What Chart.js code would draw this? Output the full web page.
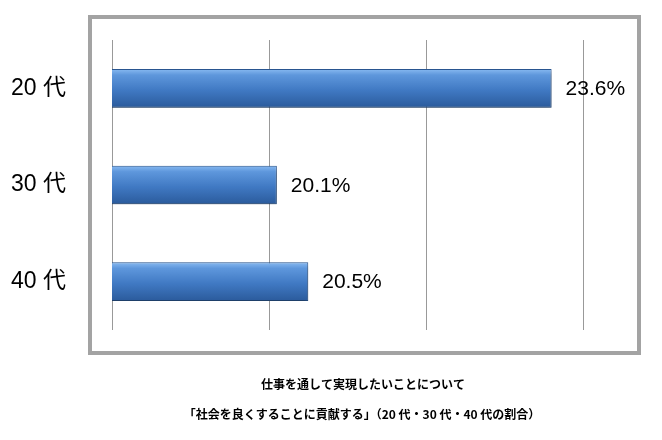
<!DOCTYPE html>
<html>
<head>
<meta charset="utf-8">
<script src="https://cdn.jsdelivr.net/npm/chart.js@4.4.0/dist/chart.umd.min.js"></script>
<style>
  html, body { margin: 0; padding: 0; background: #fff; }
  #wrap { width: 662px; height: 440px; }
</style>
</head>
<body>
<div id="wrap"><canvas id="barChart" width="662" height="440"></canvas></div>
<script>
(function () {
    "use strict";

    var categories = ["20 代", "30 代", "40 代"];
    var shares = [23.6, 20.1, 20.5];
    var axisTicks = [18, 20, 22, 24];
    var captionLines = [
        "仕事を通して実現したいことについて",
        "「社会を良くすることに貢献する」（20 代・30 代・40 代の割合）"
    ];

    var latinCjk = "'Liberation Sans', Arial, 'Noto Sans CJK JP', sans-serif";

    // vertical gradient for each bar, based on where the bar sits
    function barFill(ctx) {
        var chart = ctx.chart;
        if (!chart.chartArea || !chart.scales.y) return "#3f7ac3";
        var y = chart.scales.y.getPixelForValue(ctx.dataIndex);
        var g = chart.ctx.createLinearGradient(0, y - 19, 0, y + 19);
        g.addColorStop(0, "#86b8f0");
        g.addColorStop(0.15, "#5e97dc");
        g.addColorStop(0.55, "#4079c3");
        g.addColorStop(1, "#2b5b9c");
        return g;
    }

    // outer grey frame + caption under the chart
    var framePlugin = {
        id: "frame",
        beforeDraw: function (chart) {
            var c = chart.ctx;
            c.save();
            c.fillStyle = "#fff";
            c.fillRect(0, 0, chart.width, chart.height);
            c.strokeStyle = "#a3a3a3";
            c.lineWidth = 4;
            c.strokeRect(90, 17, 549, 336);
            c.restore();
        },
        afterDraw: function (chart) {
            var c = chart.ctx;
            c.save();
            c.fillStyle = "#000";
            c.textAlign = "center";
            c.textBaseline = "middle";
            c.font = "bold 12px 'Noto Sans CJK JP', sans-serif";
            c.fillText(captionLines[0], 363, 384);
            c.fillText(captionLines[1], 362, 414);
            c.restore();
        }
    };

    // soft shadow under the bars
    var shadowPlugin = {
        id: "barShadow",
        beforeDatasetDraw: function (chart) {
            var c = chart.ctx;
            c.save();
            c.shadowColor = "rgba(0,0,0,0.35)";
            c.shadowBlur = 5;
            c.shadowOffsetX = 1;
            c.shadowOffsetY = 3;
        },
        afterDatasetDraw: function (chart) {
            chart.ctx.restore();
        }
    };

    // value labels at the end of each bar
    var valueLabels = {
        id: "valueLabels",
        afterDatasetsDraw: function (chart) {
            var c = chart.ctx;
            var meta = chart.getDatasetMeta(0);
            c.save();
            c.fillStyle = "#000";
            c.font = "21px " + latinCjk;
            c.textAlign = "left";
            c.textBaseline = "middle";
            meta.data.forEach(function (bar, i) {
                c.fillText(shares[i].toFixed(1) + "%", bar.x + 14, bar.y + 1);
            });
            c.restore();
        }
    };

    var chartCanvas = document.getElementById("barChart").getContext("2d");

    new Chart(chartCanvas, {
        type: "bar",
        data: {
            labels: categories,
            datasets: [{
                data: shares,
                backgroundColor: barFill,
                borderColor: "#2a5894",
                borderWidth: 1,
                borderSkipped: false,
                categoryPercentage: 1,
                barPercentage: 0.4
            }]
        },
        options: {
            indexAxis: "y",
            responsive: false,
            animation: false,
            layout: { padding: { top: 40, right: 79, bottom: 110, left: 0 } },
            plugins: {
                legend: { display: false },
                tooltip: { enabled: false }
            },
            scales: {
                x: {
                    min: axisTicks[0],
                    max: axisTicks[axisTicks.length - 1],
                    afterBuildTicks: function (axis) {
                        axis.ticks = axisTicks.map(function (v) { return { value: v }; });
                    },
                    ticks: { display: false },
                    grid: { color: "#999", lineWidth: 1, drawTicks: false },
                    border: { display: false }
                },
                y: {
                    afterFit: function (axis) {
                        axis.width = 112;
                        axis.paddingTop = 0;
                        axis.paddingBottom = 0;
                    },
                    ticks: {
                        color: "#000",
                        padding: 38,
                        font: { size: 23, family: latinCjk }
                    },
                    grid: { display: false },
                    border: { display: false }
                }
            }
        },
        plugins: [framePlugin, shadowPlugin, valueLabels]
    });
})();
</script>
</body>
</html>
